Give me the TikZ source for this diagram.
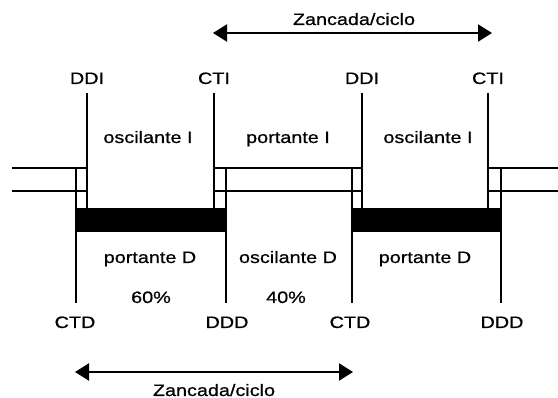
\documentclass[tikz,border=0pt]{standalone}
\usepackage{fontspec}
\setmainfont{Liberation Sans}[FakeStretch=1.2,FakeBold=0.7]
\usetikzlibrary{arrows.meta}
\begin{document}
\begin{tikzpicture}[x=1pt,y=-1pt,
  lbl/.style={font=\fontsize{16.5}{19}\selectfont, inner sep=0pt, anchor=base},
  tick/.style={line width=1.8pt},
  rail/.style={line width=1.7pt},
  band/.style={fill=black},
  span/.style={line width=2pt, {Triangle[length=14pt,width=17pt]}-{Triangle[length=14pt,width=17pt]}}]
\useasboundingbox (0,0) rectangle (558,398);
% stance bands of the right foot
\fill[band] (76,208) rectangle (226,232);
\fill[band] (352,208) rectangle (501,232);
% left foot stance (double line)
\draw[rail] (12,168) -- (87,168) (12,191) -- (87,191);
\draw[rail] (214,168) -- (362,168) (214,191) -- (362,191);
\draw[rail] (488,168) -- (558,168) (488,191) -- (558,191);
% event coordinates
\coordinate (ddi1t) at (87,93);  \coordinate (ddi1b) at (87,208);
\coordinate (cti1t) at (214,93); \coordinate (cti1b) at (214,208);
\coordinate (ddi2t) at (362,93); \coordinate (ddi2b) at (362,208);
\coordinate (cti2t) at (488,93); \coordinate (cti2b) at (488,208);
\coordinate (ctd1t) at (76,168);  \coordinate (ctd1b) at (76,303);
\coordinate (ddd1t) at (226,168); \coordinate (ddd1b) at (226,303);
\coordinate (ctd2t) at (352,168); \coordinate (ctd2b) at (352,303);
\coordinate (ddd2t) at (501,168); \coordinate (ddd2b) at (501,303);
\draw[tick] (ddi1t) -- (ddi1b);
\draw[tick] (cti1t) -- (cti1b);
\draw[tick] (ddi2t) -- (ddi2b);
\draw[tick] (cti2t) -- (cti2b);
\draw[tick] (ctd1t) -- (ctd1b);
\draw[tick] (ddd1t) -- (ddd1b);
\draw[tick] (ctd2t) -- (ctd2b);
\draw[tick] (ddd2t) -- (ddd2b);
% event labels
\node[lbl] (lddi1) at (87,84) {DDI};
\node[lbl] (lcti1) at (214,84) {CTI};
\node[lbl] (lddi2) at (362,84) {DDI};
\node[lbl] (lcti2) at (488,84) {CTI};
\node[lbl] (lctd1) at (75,328) {CTD};
\node[lbl] (lddd1) at (227,328) {DDD};
\node[lbl] (lctd2) at (350,328) {CTD};
\node[lbl] (lddd2) at (502,328) {DDD};
% phase labels
\node[lbl] (osci1) at (148,143) {oscilante I};
\node[lbl] (porti) at (288,143) {portante I};
\node[lbl] (osci2) at (428,143) {oscilante I};
\node[lbl] (portd1) at (150,263) {portante D};
\node[lbl] (oscd) at (288,263) {oscilante D};
\node[lbl] (portd2) at (425,263) {portante D};
\node[lbl] (p60) at (151,303) {60\%};
\node[lbl] (p40) at (286,303) {40\%};
% stride arrows
\coordinate (ta) at (213,33); \coordinate (tb) at (492,33);
\draw[span] (ta) -- (tb);
\node[lbl] (ztop) at (354,25) {Zancada/ciclo};
\coordinate (ba) at (75,372); \coordinate (bb) at (353,372);
\draw[span] (ba) -- (bb);
\node[lbl] (zbot) at (214,396) {Zancada/ciclo};
\end{tikzpicture}
\end{document}
